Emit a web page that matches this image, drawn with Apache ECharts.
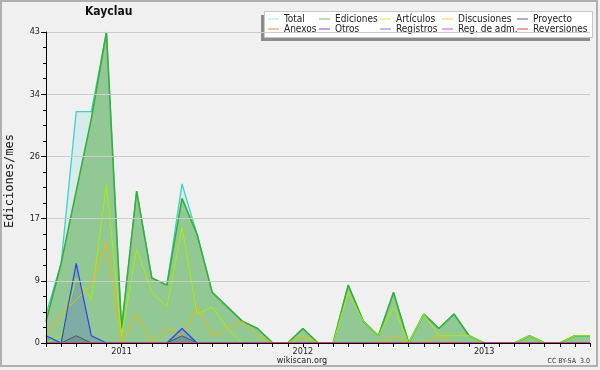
<!DOCTYPE html>
<html>
<head>
<meta charset="utf-8">
<script src="https://cdn.jsdelivr.net/npm/echarts@6/dist/echarts.min.js"></script>
<style>
  html, body { margin: 0; padding: 0; background: #fff; }
  #chart { width: 600px; height: 370px; }
</style>
</head>
<body>
<div id="chart"></div>
<script>
// Ediciones por mes de Kayclau, ago 2010 – ago 2013
const months = [
  '2010-08', '2010-09', '2010-10', '2010-11', '2010-12',
  '2011-01', '2011-02', '2011-03', '2011-04', '2011-05', '2011-06',
  '2011-07', '2011-08', '2011-09', '2011-10', '2011-11', '2011-12',
  '2012-01', '2012-02', '2012-03', '2012-04', '2012-05', '2012-06',
  '2012-07', '2012-08', '2012-09', '2012-10', '2012-11', '2012-12',
  '2013-01', '2013-02', '2013-03', '2013-04', '2013-05', '2013-06',
  '2013-07', '2013-08',
];
const total       = [4, 11, 32, 32, 43, 2, 21, 9, 8, 22, 15, 7, 5, 3, 2, 0, 0, 2, 0, 0, 8, 3, 1, 7, 0, 4, 2, 4, 1, 0, 0, 0, 1, 0, 0, 1, 1];
const ediciones   = [3, 11, 21, 31, 43, 2, 21, 9, 8, 20, 15, 7, 5, 3, 2, 0, 0, 2, 0, 0, 8, 3, 1, 7, 0, 4, 2, 4, 1, 0, 0, 0, 1, 0, 0, 1, 1];
const articulos   = [0, 1, 9, 6, 22, 1, 13, 7, 5, 16, 4, 5, 2, 0, 0, 0, 0, 1, 0, 0, 7, 3, 1, 5, 0, 4, 1, 1, 1, 0, 0, 0, 1, 0, 0, 1, 1];
const discusiones = [1, 4, 6, 8, 14, 0, 4, 0, 2, 1, 5, 1, 2, 3, 1, 0, 0, 1, 0, 0, 0, 0, 0, 1, 0, 0, 1, 0, 0, 0, 0, 0, 0, 0, 0, 0, 0];
const proyecto    = [0, 0, 1, 0, 0, 0, 0, 0, 0, 1, 0, 0, 0, 0, 0, 0, 0, 0, 0, 0, 0, 0, 0, 0, 0, 0, 0, 0, 0, 0, 0, 0, 0, 0, 0, 0, 0];
const registros   = [1, 0, 11, 1, 0, 0, 0, 0, 0, 2, 0, 0, 0, 0, 0, 0, 0, 0, 0, 0, 0, 0, 0, 0, 0, 0, 0, 0, 0, 0, 0, 0, 0, 0, 0, 0, 0];
const zeros       = months.map(() => 0); // Anexos, Otros, Reg. de adm., Reversiones: nada
const yMax = 43;

const FONT = "'DejaVu Sans Condensed', 'DejaVu Sans', sans-serif";

// columnas de la leyenda: [arriba, abajo]
const legendCols = [
  [['Total', '#a8e6e0'], ['Anexos', '#f08050']],
  [['Ediciones', '#70c070'], ['Otros', '#8040c0']],
  [['Artículos', '#c8f050'], ['Registros', '#7878f0']],
  [['Discusiones', '#f8c850'], ['Reg. de adm.', '#d050e0']],
  [['Proyecto', '#606060'], ['Reversiones', '#e04040']],
];
const legendX = [268, 319, 380, 442, 517];

function line(name, data, color, width, fill) {
  const s = {
    name, type: 'line', data, symbol: 'none', silent: true,
    lineStyle: { color, width }, itemStyle: { color },
  };
  if (fill) s.areaStyle = { color: fill, opacity: 1 };
  return s;
}

const chart = echarts.init(document.getElementById('chart'));
chart.setOption({
  animation: false,
  backgroundColor: '#f0f0f1',
  title: {
    text: 'Kayclau', left: 85, top: 6, padding: 0,
    textStyle: { fontFamily: FONT, fontSize: 12, fontWeight: 'bold', color: '#111' },
  },
  legend: legendCols.map((col, i) => ({
    orient: 'vertical', left: legendX[i], top: 14, padding: 0, itemGap: 0,
    itemWidth: 11, itemHeight: 1, icon: 'rect',
    selectedMode: false,
    textStyle: { fontFamily: FONT, fontSize: 10, lineHeight: 10, color: '#222' },
    data: col.map(([name, c]) => ({ name, itemStyle: { color: c } })),
  })),
  grid: { left: 46, right: 10, top: 32, bottom: 27 },
  xAxis: {
    type: 'category', data: months, boundaryGap: false, z: 5,
    axisLine: { lineStyle: { color: '#000', width: 1 } },
    axisTick: { interval: 0, length: 4, lineStyle: { color: '#000' } },
    axisLabel: {
      interval: (i, v) => v.endsWith('-01'),
      formatter: v => v.slice(0, 4),
      margin: 4, fontFamily: FONT, fontSize: 9, color: '#222',
    },
    splitLine: { show: false },
  },
  yAxis: {
    type: 'value', min: 0, max: yMax, interval: yMax / 5, z: 5,
    axisLine: { show: true, lineStyle: { color: '#000', width: 1 } },
    axisTick: { show: true, length: 5, lineStyle: { color: '#000' } },
    minorTick: { show: true, splitNumber: 4, length: 3, lineStyle: { color: '#000' } },
    axisLabel: {
      formatter: v => Math.round(v), margin: 6,
      fontFamily: FONT, fontSize: 9, color: '#222',
    },
    splitLine: { lineStyle: { color: '#cccccc', width: 1 } },
  },
  series: [
    line('Total', total, '#40d0c8', 1.3, 'rgba(64,208,200,0.15)'),
    line('Ediciones', ediciones, '#38b038', 1.6, 'rgba(78,165,60,0.5)'),
    line('Artículos', articulos, '#a8f000', 1, null),
    line('Discusiones', discusiones, '#f0b800', 1, null),
    line('Proyecto', proyecto, '#505858', 1, 'rgba(60,60,60,0.2)'),
    line('Anexos', zeros, '#f08050', 1, null),
    line('Otros', zeros, '#8040c0', 1, null),
    line('Registros', registros, '#3040f0', 1.2, 'rgba(48,64,240,0.2)'),
    line('Reg. de adm.', zeros, '#d050e0', 1, null),
    line('Reversiones', zeros, '#e04040', 1, null),
  ],
  graphic: [
    { type: 'rect', z: -1, shape: { x: 1, y: 1, width: 596, height: 365 },
      style: { fill: 'none', stroke: '#b0b0b0', lineWidth: 2 } },
    { type: 'rect', z: 0, shape: { x: 261, y: 15, width: 329, height: 26 },
      style: { fill: '#8c8c8c' } },
    { type: 'rect', z: 0, shape: { x: 264.5, y: 11.5, width: 328, height: 26 },
      style: { fill: '#ffffff', stroke: '#c8c8c8', lineWidth: 1 } },
    { type: 'text', x: 10, y: 181, rotation: Math.PI / 2,
      style: { text: 'Ediciones/mes', fontFamily: "'DejaVu Sans Mono', monospace", fontSize: 12,
        fill: '#111', align: 'center', verticalAlign: 'middle' } },
    { type: 'text', x: 302, y: 361,
      style: { text: 'wikiscan.org', fontFamily: FONT, fontSize: 9, fill: '#222',
        align: 'center', verticalAlign: 'middle' } },
    { type: 'text', x: 590, y: 361,
      style: { text: 'CC BY-SA  3.0', fontFamily: FONT, fontSize: 7, fill: '#333',
        align: 'right', verticalAlign: 'middle' } },
  ],
});
</script>
</body>
</html>
